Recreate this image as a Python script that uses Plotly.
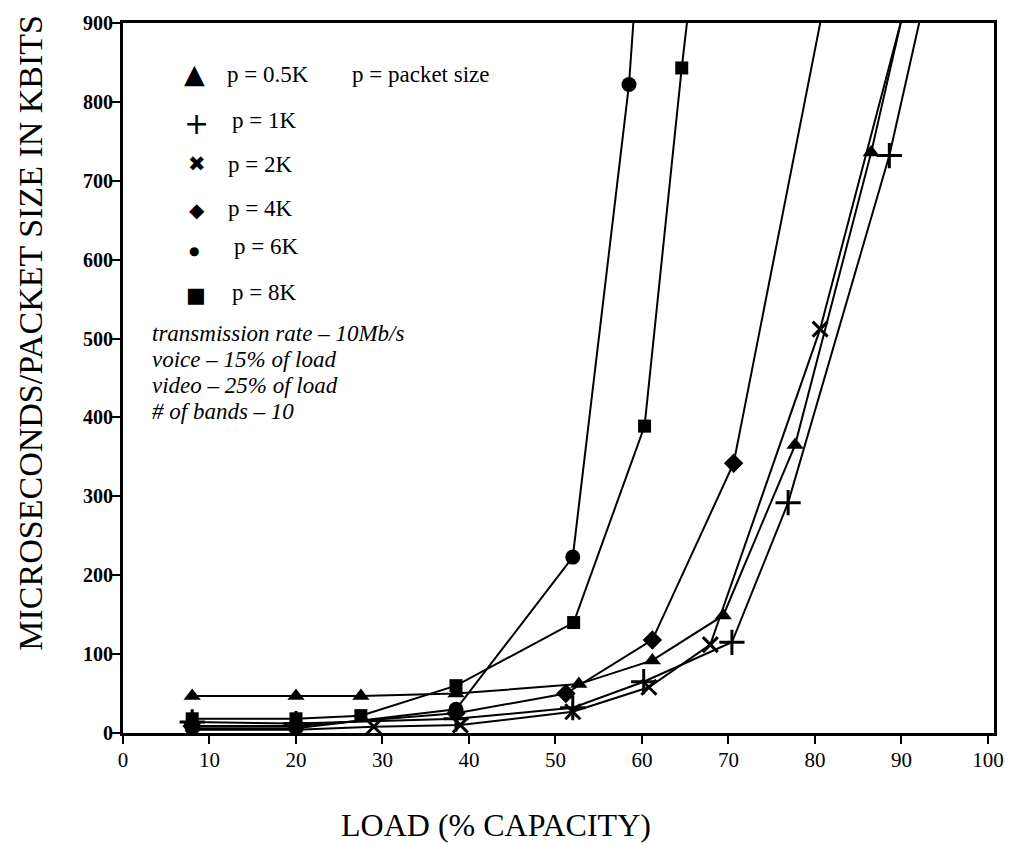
import plotly.graph_objects as go

# ---- data ----
x_05k = [8, 20, 27.5, 38.5, 52.7, 61.2, 69.4, 77.7, 86.5, 92.0]
y_05k = [47, 47, 47, 50, 62, 92, 149, 365, 736, 1000]

x_1k = [8, 20, 38.5, 52, 60.2, 70.4, 76.9, 88.6, 94.1]
y_1k = [14, 12, 18, 32, 65, 115, 292, 732, 1000]

x_2k = [8, 20, 29, 39, 52, 60.8, 67.9, 80.6, 92.3]
y_2k = [4, 4, 8, 10, 27, 58, 112, 512, 1000]

x_4k = [8, 20, 38.5, 51.2, 61.2, 70.6, 82.4]
y_4k = [9, 9, 25, 50, 118, 342, 1000]

x_6k = [8, 20, 38.5, 52, 58.5, 59.64]
y_6k = [6, 6, 30, 223, 822, 1000]

x_8k = [8, 20, 27.5, 38.5, 52.1, 60.3, 64.6, 66.25]
y_8k = [18, 18, 22, 60, 140, 389, 843, 1000]

x_ticks = [0, 10, 20, 30, 40, 50, 60, 70, 80, 90, 100]
y_ticks = [0, 100, 200, 300, 400, 500, 600, 700, 800, 900]

legend_glyphs = ["▲", "+", "✖", "◆", "●", "■"]
legend_labels = ["p = 0.5K", "p = 1K", "p = 2K", "p = 4K", "p = 6K", "p = 8K"]
notes = ["transmission rate – 10Mb/s", "voice – 15% of load",
         "video – 25% of load", "# of bands – 10"]

# ---- figure ----
W, H = 1016, 845
L, R, T, B = 122.5, 997, 18, 733

fig = go.Figure()
series = [
    (x_05k, y_05k, dict(symbol="triangle-up", size=15, color="black")),
    (x_1k, y_1k, dict(symbol="cross-thin", size=18, color="black",
                      line=dict(color="black", width=3))),
    (x_2k, y_2k, dict(symbol="x-thin", size=15, color="black",
                      line=dict(color="black", width=3))),
    (x_4k, y_4k, dict(symbol="diamond", size=15, color="black")),
    (x_6k, y_6k, dict(symbol="circle", size=15, color="black")),
    (x_8k, y_8k, dict(symbol="square", size=13, color="black")),
]
for xs, ys, mk in series:
    fig.add_trace(go.Scatter(x=xs, y=ys, mode="lines+markers",
                             line=dict(color="black", width=2),
                             marker=mk, showlegend=False, cliponaxis=True))

serif = "Liberation Serif"

def px(xp):
    return (xp - L) / (R - L)

def py(yp):
    return (B - yp) / (B - T)

ann = []
# legend
leg_rows = [(194, 69, 225, 70), (196, 119, 230, 116), (197, 160, 226, 160),
            (197, 206, 226, 205), (194, 248, 232, 243), (196, 292, 230, 289)]
glyph_sizes = [27, 30, 21, 20, 12, 21]
for (gx, gy, tx, ty), g, lab, gs in zip(leg_rows, legend_glyphs, legend_labels, glyph_sizes):
    ann.append(dict(x=px(gx), y=py(gy), xref="paper", yref="paper", text=g,
                    showarrow=False, xanchor="center", yanchor="middle",
                    font=dict(family="DejaVu Sans", size=gs, color="black")))
    ann.append(dict(x=px(tx), y=py(ty), xref="paper", yref="paper", text=lab,
                    showarrow=False, xanchor="left", yanchor="middle",
                    font=dict(family=serif, size=23, color="black")))
ann.append(dict(x=px(350), y=py(70), xref="paper", yref="paper", text="p = packet size",
                showarrow=False, xanchor="left", yanchor="middle",
                font=dict(family=serif, size=23, color="black")))
for i, t in enumerate(notes):
    ann.append(dict(x=px(150), y=py(331 + 26 * i), xref="paper", yref="paper",
                    text="<i>" + t + "</i>", showarrow=False, xanchor="left",
                    yanchor="middle", font=dict(family=serif, size=23, color="black")))
# axis titles
ann.append(dict(x=px(497), y=py(826), xref="paper", yref="paper",
                text="LOAD (% CAPACITY)", showarrow=False, xanchor="center",
                yanchor="middle", font=dict(family=serif, size=32, color="black")))
ann.append(dict(x=px(30), y=py(330), xref="paper", yref="paper",
                text="MICROSECONDS/PACKET SIZE IN KBITS", showarrow=False,
                textangle=-90, xanchor="center", yanchor="middle",
                font=dict(family=serif, size=34, color="black")))

fig.update_layout(
    width=W, height=H,
    margin=dict(l=L, r=W - R, t=T, b=H - B, pad=0),
    paper_bgcolor="white", plot_bgcolor="white",
    annotations=ann,
    xaxis=dict(range=[0, 100.7], tickvals=x_ticks, ticktext=[str(v) for v in x_ticks],
               showgrid=False, zeroline=False, showline=True, linecolor="black",
               linewidth=3, mirror=True, ticks="outside", ticklen=8, tickwidth=2,
               tickcolor="black", ticklabelstandoff=-2,
               tickfont=dict(family=serif, size=21, color="black")),
    yaxis=dict(range=[0, 900], tickvals=y_ticks, ticktext=[str(v) for v in y_ticks],
               showgrid=False, zeroline=False, showline=True, linecolor="black",
               linewidth=3, mirror=True, ticks="outside", ticklen=8, tickwidth=2,
               tickcolor="black", ticklabelstandoff=-5,
               tickfont=dict(family=serif, size=20, color="black", weight="bold")),
)

fig.write_html("out.html", config={"displayModeBar": False},
               post_script="document.body.style.margin='0';document.body.style.overflow='hidden';")
